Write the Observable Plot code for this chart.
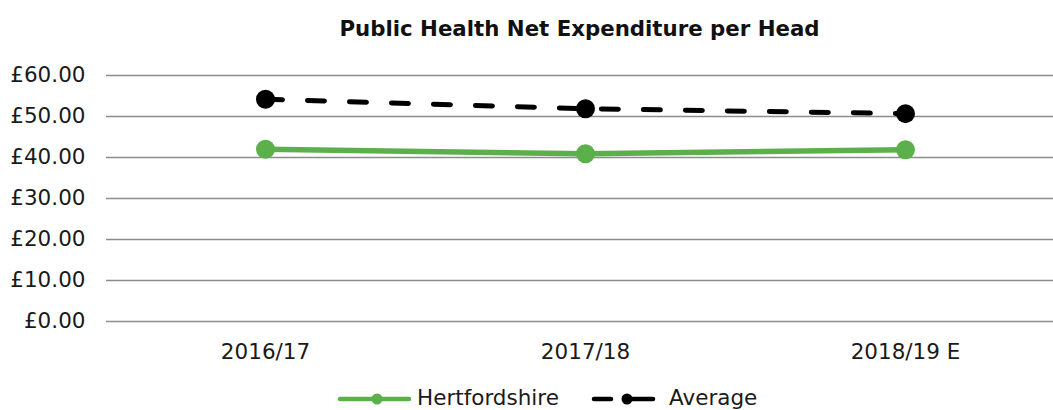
<!DOCTYPE html>
<html>
<head>
<meta charset="utf-8">
<script src="https://cdn.jsdelivr.net/npm/d3@7"></script>
<script src="https://cdn.jsdelivr.net/npm/@observablehq/plot@0.6"></script>
<style>
  html, body { margin: 0; padding: 0; background: #fff; }
  body { width: 1053px; height: 410px; overflow: hidden; font-family: "DejaVu Sans", Verdana, sans-serif; color: #1a1a1a; }
  #title { height: 58px; box-sizing: border-box; padding-top: 17px; padding-left: 106px; line-height: 24px; text-align: center; font-weight: bold; font-size: 21.3px; color: #111; }
  #legend { position: relative; height: 40px; }
  #legend svg { position: absolute; left: 0; top: 0; }
  #legend .lab { position: absolute; top: 15px; font-size: 21.5px; line-height: 25px; color: #1a1a1a; }
</style>
</head>
<body>
<div id="title">Public Health Net Expenditure per Head</div>
<div id="chart"></div>
<div id="legend"></div>
<script>
const categories = ["2016/17", "2017/18", "2018/19 E"];
const hertfordshire = [42.0, 40.9, 41.9];
const average = [54.2, 51.9, 50.7];
const yTicks = [0, 10, 20, 30, 40, 50, 60];

const green = "#5cb04b";
const hertsData = categories.map((c, i) => ({cat: c, value: hertfordshire[i]}));
const avgData = categories.map((c, i) => ({cat: c, value: average[i]}));

const plot = Plot.plot({
  width: 1053,
  height: 312,
  marginTop: 17,
  marginBottom: 49,
  marginLeft: 106,
  marginRight: 0,
  style: {fontFamily: "DejaVu Sans, Verdana, sans-serif", fontSize: "21.5px", color: "#1a1a1a", background: "#fff"},
  x: {type: "point", domain: categories, range: [265, 905], padding: 0},
  y: {domain: [0, 60]},
  marks: [
    Plot.ruleY(yTicks, {stroke: "#8c8c8c", strokeWidth: 1.6}),
    Plot.axisY({ticks: yTicks, tickSize: 0, tickPadding: 21, tickFormat: d => "£" + d.toFixed(2), label: null, fill: "#1a1a1a"}),
    Plot.axisX({tickSize: 0, tickPadding: 22, label: null, fill: "#1a1a1a"}),
    Plot.line(avgData, {x: "cat", y: "value", stroke: "#000", strokeWidth: 5, strokeDasharray: "17 25", strokeLinecap: "round"}),
    Plot.line(hertsData, {x: "cat", y: "value", stroke: green, strokeWidth: 5.5, strokeLinecap: "round"}),
    Plot.dot(avgData, {x: "cat", y: "value", r: 9.5, fill: "#000"}),
    Plot.dot(hertsData, {x: "cat", y: "value", r: 9.5, fill: green})
  ]
});
document.getElementById("chart").appendChild(plot);

// legend
const legend = d3.select("#legend");
const svg = legend.append("svg").attr("width", 1053).attr("height", 40);
svg.append("line").attr("x1", 340).attr("x2", 409).attr("y1", 29).attr("y2", 29)
  .attr("stroke", green).attr("stroke-width", 4.5).attr("stroke-linecap", "round");
svg.append("circle").attr("cx", 377).attr("cy", 29).attr("r", 5.5).attr("fill", green);
svg.append("line").attr("x1", 594).attr("x2", 611).attr("y1", 29).attr("y2", 29)
  .attr("stroke", "#000").attr("stroke-width", 4.5).attr("stroke-linecap", "round");
svg.append("line").attr("x1", 628).attr("x2", 653).attr("y1", 29).attr("y2", 29)
  .attr("stroke", "#000").attr("stroke-width", 4.5).attr("stroke-linecap", "round");
svg.append("circle").attr("cx", 627).attr("cy", 29).attr("r", 5.5).attr("fill", "#000");
legend.append("div").attr("class", "lab").style("left", "417px").text("Hertfordshire");
legend.append("div").attr("class", "lab").style("left", "669px").text("Average");
</script>
</body>
</html>
